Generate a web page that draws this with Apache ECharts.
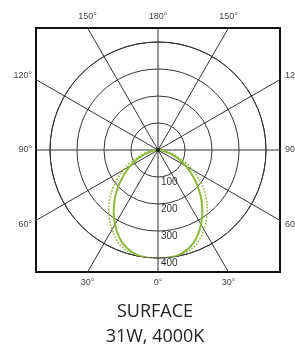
<!DOCTYPE html>
<html>
<head>
<meta charset="utf-8">
<script src="https://cdn.jsdelivr.net/npm/echarts@6/dist/echarts.min.js"></script>
<style>
  html, body { margin: 0; padding: 0; background: #fff; overflow: hidden; }
  #main { width: 295px; height: 345px; }
</style>
</head>
<body>
<div id="main"></div>
<script>
// candela values, every 5 degrees from nadir (0) to horizontal (90)
var angles = [0, 5, 10, 15, 20, 25, 30, 35, 40, 45, 50, 55, 60, 65, 70, 75, 80, 85, 90];
var solidCd = [405, 403, 398, 388, 372, 348, 318, 286, 252, 217, 182, 150, 118, 90, 62, 40, 22, 8, 0];
var dottedCd = [400, 399, 397, 392, 384, 365, 340, 313, 284, 252, 218, 182, 148, 115, 82, 55, 30, 12, 0];

var ringValues = [100, 200, 300, 400];
var spokeAngles = [0, 30, 60, 90, 120, 150];
var topLabels = ['150°', '180°', '150°'];
var bottomLabels = ['30°', '0°', '30°'];
var sideLabels = ['60°', '90°', '120°'];   // bottom to top
var titleLines = ['SURFACE', '31W, 4000K'];

var RMAX = 400;
var RPX = 108;            // outer ring radius in px
var BOXPX = 122;          // half width of the square frame in px
var HALF = RMAX * BOXPX / RPX;   // frame half width in cd units
var T30 = HALF * Math.tan(Math.PI / 6);
var SIDE = HALF * 74.5 / BOXPX;  // side labels sit a little wider than the spokes

function curve(vals) {
  // left half goes clockwise from nadir, right half mirrored
  var pts = [];
  for (var i = angles.length - 1; i >= 0; i--) pts.push([vals[i], angles[i]]);
  for (var j = 0; j < angles.length; j++) pts.push([vals[j], 360 - angles[j]]);
  return pts;
}

function spoke(a) {
  var r = a * Math.PI / 180, L = HALF * 3;
  return [[-L * Math.sin(r), -L * Math.cos(r)], [L * Math.sin(r), L * Math.cos(r)]];
}

function pick(list) {
  return function (v) { return v < -1 ? list[0] : (v > 1 ? list[2] : list[1]); };
}

var lineColor = '#333';
var green = '#8db83a';
var tickFont = { fontFamily: 'Liberation Sans', fontSize: 9, color: '#444' };
var noAxis = { axisLine: { show: false }, axisTick: { show: false }, splitLine: { show: false } };

var myChart = echarts.init(document.getElementById('main'));

var series = spokeAngles.map(function (a) {
  return {
    type: 'line', xAxisIndex: 0, yAxisIndex: 0,
    data: spoke(a), showSymbol: false, silent: true,
    lineStyle: { color: lineColor, width: 1 }, z: 2
  };
});
series.push({
  type: 'line', coordinateSystem: 'polar', data: curve(dottedCd),
  smooth: true, showSymbol: false,
  lineStyle: { color: green, width: 1.6, type: 'dotted' }, z: 4
});
series.push({
  type: 'line', coordinateSystem: 'polar', data: curve(solidCd),
  smooth: true, showSymbol: false,
  lineStyle: { color: green, width: 2 }, z: 5
});
series.push({
  type: 'scatter', xAxisIndex: 0, yAxisIndex: 0, data: [[0, 0]],
  symbolSize: 4, itemStyle: { color: '#000' }, z: 6
});

myChart.setOption({
  animation: false,
  title: {
    text: titleLines.join('\n'),
    left: 155, top: 299, padding: 0, textAlign: 'center',
    textStyle: { fontFamily: 'Open Sans', fontSize: 18, fontWeight: 'normal', color: '#222', lineHeight: 25 }
  },
  grid: {
    left: 36, top: 28, width: BOXPX * 2, height: BOXPX * 2,
    outerBoundsMode: 'none', containLabel: false,
    show: true, borderColor: '#111', borderWidth: 2, backgroundColor: 'transparent'
  },
  xAxis: [
    Object.assign({ type: 'value', min: -HALF, max: HALF, position: 'bottom',
      axisLabel: Object.assign({ customValues: [-T30, 0, T30], margin: 6, formatter: pick(bottomLabels) }, tickFont) }, noAxis),
    Object.assign({ type: 'value', min: -HALF, max: HALF, position: 'top',
      axisLabel: Object.assign({ customValues: [-T30, 0, T30], margin: 7, formatter: pick(topLabels) }, tickFont) }, noAxis)
  ],
  yAxis: [
    Object.assign({ type: 'value', min: -HALF, max: HALF, position: 'left',
      axisLabel: Object.assign({ customValues: [-SIDE, 0, SIDE], margin: 4, formatter: pick(sideLabels) }, tickFont) }, noAxis),
    Object.assign({ type: 'value', min: -HALF, max: HALF, position: 'right',
      axisLabel: Object.assign({ customValues: [-SIDE, 0, SIDE], margin: 5, formatter: pick(sideLabels) }, tickFont) }, noAxis)
  ],
  polar: { center: [36 + BOXPX, 28 + BOXPX], radius: RPX },
  angleAxis: {
    type: 'value', min: 0, max: 360, startAngle: 270, clockwise: true,
    axisLine: { show: true, lineStyle: { color: lineColor, width: 1 } },
    axisTick: { show: false }, axisLabel: { show: false }, splitLine: { show: false }
  },
  radiusAxis: {
    type: 'value', min: 0, max: RMAX, interval: ringValues[1] - ringValues[0],
    axisLine: { show: false }, axisTick: { show: false },
    splitLine: { show: true, lineStyle: { color: lineColor, width: 1 } },
    axisLabel: { showMinLabel: false, margin: 3, verticalAlign: 'top', lineHeight: 10,
      fontFamily: 'Liberation Sans', fontSize: 10, color: '#333' }
  },
  series: series
});
</script>
</body>
</html>
